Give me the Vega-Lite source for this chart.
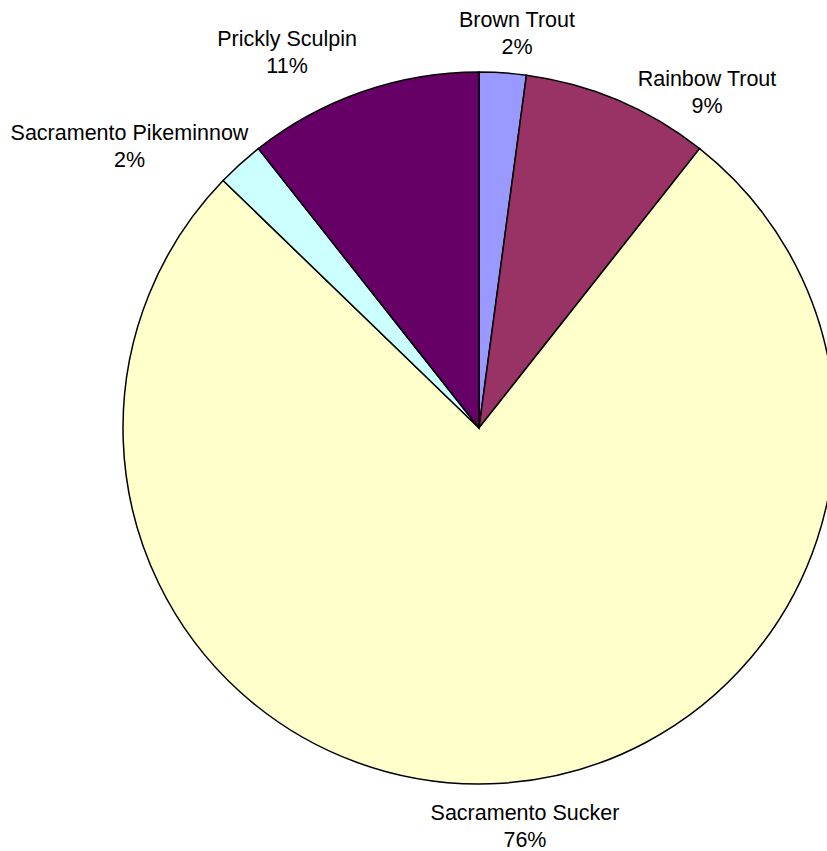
{
  "$schema": "https://vega.github.io/schema/vega-lite/v6.json",
  "width": 958,
  "height": 856,
  "autosize": {"type": "none"},
  "padding": 0,
  "background": "white",
  "config": {
    "view": {"stroke": null},
    "text": {"font": "Liberation Sans", "fontSize": 21.5, "lineHeight": 27, "lineBreak": "\n", "fill": "black", "align": "center", "baseline": "alphabetic"}
  },
  "data": {
    "values": [
      {"species": "Brown Trout", "count": 1, "order": 1, "label": "Brown Trout\n2%"},
      {"species": "Rainbow Trout", "count": 4, "order": 2, "label": "Rainbow Trout\n9%"},
      {"species": "Sacramento Sucker", "count": 36, "order": 3, "label": "Sacramento Sucker\n76%"},
      {"species": "Sacramento Pikeminnow", "count": 1, "order": 4, "label": "Sacramento Pikeminnow\n2%"},
      {"species": "Prickly Sculpin", "count": 5, "order": 5, "label": "Prickly Sculpin\n11%"}
    ]
  },
  "encoding": {
    "theta": {"field": "count", "type": "quantitative", "stack": true},
    "order": {"field": "order", "type": "quantitative"}
  },
  "layer": [
    {
      "mark": {"type": "arc", "outerRadius": 356, "stroke": "black", "strokeWidth": 1.5},
      "encoding": {
        "color": {
          "field": "species",
          "type": "nominal",
          "scale": {
            "domain": ["Brown Trout", "Rainbow Trout", "Sacramento Sucker", "Sacramento Pikeminnow", "Prickly Sculpin"],
            "range": ["#9999FF", "#993366", "#FFFFCC", "#CCFFFF", "#660066"]
          },
          "legend": null
        }
      }
    },
    {
      "mark": {"type": "text", "radius": 402.8, "thetaOffset": 0.0276},
      "encoding": {"text": {"condition": {"test": "datum.species === 'Brown Trout'", "field": "label"}, "value": ""}}
    },
    {
      "mark": {"type": "text", "radius": 411, "thetaOffset": 0.1869},
      "encoding": {"text": {"condition": {"test": "datum.species === 'Rainbow Trout'", "field": "label"}, "value": ""}}
    },
    {
      "mark": {"type": "text", "radius": 394.7, "thetaOffset": -0.0499},
      "encoding": {"text": {"condition": {"test": "datum.species === 'Sacramento Sucker'", "field": "label"}, "value": ""}}
    },
    {
      "mark": {"type": "text", "radius": 452.9, "thetaOffset": -0.1463},
      "encoding": {"text": {"condition": {"test": "datum.species === 'Sacramento Pikeminnow'", "field": "label"}, "value": ""}}
    },
    {
      "mark": {"type": "text", "radius": 427.5, "thetaOffset": -0.1314},
      "encoding": {"text": {"condition": {"test": "datum.species === 'Prickly Sculpin'", "field": "label"}, "value": ""}}
    }
  ]
}
